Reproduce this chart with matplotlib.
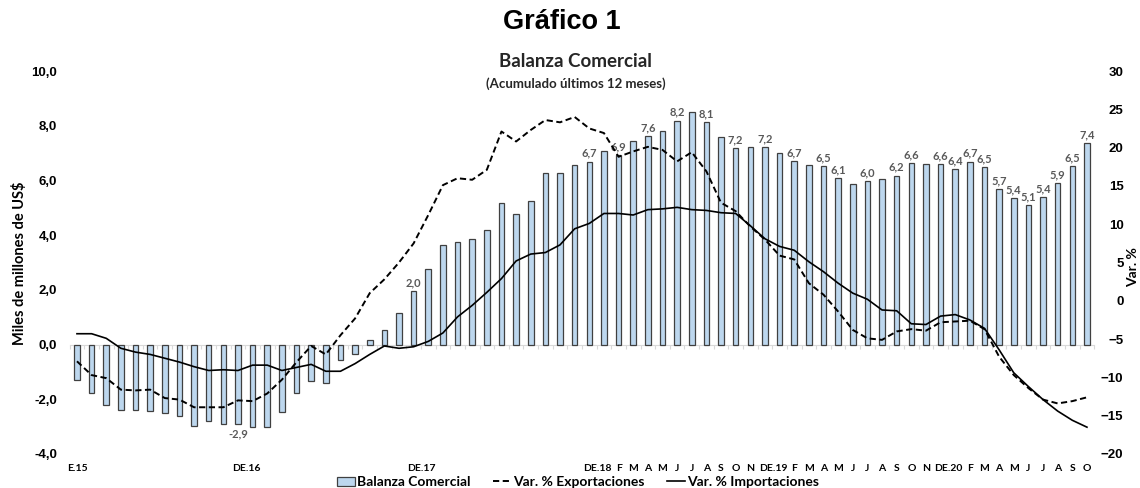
import numpy as np
import matplotlib.pyplot as plt
from matplotlib.patches import Patch
from matplotlib.lines import Line2D
from matplotlib.ticker import FuncFormatter

# Balanza comercial acumulada 12 meses (miles de millones de US$), E.15 a O.20
balanza = [-1.28, -1.77, -2.22, -2.40, -2.40, -2.42, -2.50, -2.60, -2.96, -2.78,
           -2.90, -2.92, -3.00, -3.00, -2.46, -1.76, -1.33, -1.41, -0.55, -0.35,
           0.15, 0.52, 1.16, 1.97, 2.78, 3.63, 3.75, 3.87, 4.17, 5.16,
           4.79, 5.26, 6.26, 6.26, 6.56, 6.69, 7.06, 6.93, 7.44, 7.62,
           7.82, 8.19, 8.49, 8.14, 7.60, 7.17, 7.24, 7.21, 6.99, 6.72,
           6.58, 6.54, 6.09, 5.86, 5.98, 6.07, 6.18, 6.62, 6.60, 6.60,
           6.42, 6.69, 6.48, 5.70, 5.36, 5.09, 5.39, 5.91, 6.53, 7.36]

# Var. % exportaciones e importaciones (eje derecho)
exportaciones = [-7.9, -9.7, -10.1, -11.6, -11.7, -11.6, -12.7, -12.9, -13.9, -13.9,
                 -13.9, -13.0, -13.1, -12.1, -10.3, -8.0, -5.9, -7.0, -4.5, -2.3,
                 1.0, 2.8, 5.0, 7.5, 11.2, 15.1, 16.0, 15.8, 17.1, 22.1,
                 20.8, 22.3, 23.6, 23.3, 24.0, 22.5, 21.9, 18.8, 19.5, 20.1,
                 19.7, 18.2, 19.4, 16.9, 12.8, 11.7, 9.7, 8.0, 5.9, 5.4,
                 2.3, 0.8, -1.4, -3.8, -4.9, -5.1, -4.0, -3.7, -3.9, -2.8,
                 -2.7, -2.6, -3.7, -7.3, -9.7, -11.4, -12.9, -13.4, -13.1, -12.6]

importaciones = [-4.3, -4.3, -4.9, -6.2, -6.7, -7.0, -7.5, -8.0, -8.6, -9.1,
                 -9.0, -9.1, -8.4, -8.4, -9.1, -8.7, -8.3, -9.2, -9.2, -8.2,
                 -7.0, -5.9, -6.2, -6.0, -5.3, -4.2, -2.1, -0.6, 1.1, 2.9,
                 5.2, 6.1, 6.3, 7.3, 9.4, 10.1, 11.4, 11.4, 11.2, 11.9,
                 12.0, 12.2, 11.9, 11.8, 11.5, 11.4, 9.8, 8.1, 7.1, 6.6,
                 5.1, 3.8, 2.3, 1.0, 0.2, -1.2, -1.3, -3.0, -3.1, -2.0,
                 -1.8, -2.5, -3.6, -6.4, -9.4, -11.2, -12.9, -14.4, -15.6, -16.5]

meses = ['F', 'M', 'A', 'M', 'J', 'J', 'A', 'S', 'O', 'N']
etiquetas_x = (['E.15'] + [''] * 11 + ['DE.16'] + [''] * 11 + ['DE.17'] + [''] * 11
               + ['DE.18'] + meses + [''] + ['DE.19'] + meses + [''] + ['DE.20'] + meses[:9])

# barras que llevan etiqueta de dato
con_etiqueta = [11, 23, 35, 37, 39, 41, 43, 45, 47, 49, 51, 52, 54, 56, 57,
                59, 60, 61, 62, 63, 64, 65, 66, 67, 68, 69]

LATO = ['Lato', 'DejaVu Sans']
ARIAL = ['Liberation Sans', 'DejaVu Sans']

n = len(balanza)
x = np.arange(n)

fig = plt.figure(figsize=(11.4, 4.88), dpi=100)
ax = fig.add_axes([0.0611, 0.0697, 0.8988, 0.7848])
ax2 = ax.twinx()

ax.bar(x, balanza, width=0.38, color='#BDD7EE', edgecolor='#404040', linewidth=0.9, zorder=2)

for i in con_etiqueta:
    v = balanza[i]
    txt = f"{v:.1f}".replace('.', ',')
    if v >= 0:
        ax.annotate(txt, (i, v), xytext=(0, 2), textcoords='offset points',
                    ha='center', va='bottom', fontsize=8, color='#595959',
                    family=LATO, fontweight='bold')
    else:
        ax.annotate(txt, (i, v), xytext=(0, -3), textcoords='offset points',
                    ha='center', va='top', fontsize=8, color='#595959',
                    family=LATO, fontweight='bold')

ax2.plot(x, exportaciones, color='black', linewidth=1.4, linestyle=(0, (3.2, 1.8)))
ax2.plot(x, importaciones, color='black', linewidth=1.2)

ax.set_xlim(-0.5, n - 0.5)
ax.set_ylim(-4, 10)
ax2.set_ylim(-20, 30)

ax.set_yticks(np.arange(-4, 10.1, 2))
ax.yaxis.set_major_formatter(FuncFormatter(lambda v, p: f"{v:.1f}".replace('.', ',')))
ax2.set_yticks(np.arange(-20, 31, 5))
ax.tick_params(axis='y', length=0, pad=9)
ax2.tick_params(axis='y', length=0, pad=21)
for lab in ax.get_yticklabels():
    lab.set_family(ARIAL)
    lab.set_fontweight('bold')
    lab.set_fontsize(9.5)
for lab in ax2.get_yticklabels():
    lab.set_family(ARIAL)
    lab.set_fontweight('bold')
    lab.set_fontsize(9.5)
    lab.set_horizontalalignment('right')

for s in ['top', 'left', 'right']:
    ax.spines[s].set_visible(False)
for s in ax2.spines.values():
    s.set_visible(False)

# eje de categorias sobre el cero
ax.spines['bottom'].set_position(('data', 0))
ax.spines['bottom'].set_color('#D9D9D9')
ax.spines['bottom'].set_zorder(1)
ax.set_xticks(np.arange(-0.5, n, 1))
ax.tick_params(axis='x', length=3, color='#D9D9D9', labelbottom=False)

pos = [i - 0.45 if e.startswith('DE') else i for i, e in enumerate(etiquetas_x) if e]
labs = [e for e in etiquetas_x if e]
sec = ax.secondary_xaxis('bottom')
sec.set_xticks(pos, labs)
sec.tick_params(length=0, pad=7)
sec.spines['bottom'].set_visible(False)
for lab in sec.get_xticklabels():
    lab.set_family(LATO)
    lab.set_fontweight('bold')
    lab.set_fontsize(7.5)

fig.text(0.493, 0.955, 'Gráfico 1', ha='center', va='center', fontsize=19.5,
         fontweight='bold', family=ARIAL)
fig.text(0.505, 0.873, 'Balanza Comercial', ha='center', va='center', fontsize=13.5,
         fontweight='bold', family=LATO, color='#262626')
fig.text(0.505, 0.828, '(Acumulado últimos 12 meses)', ha='center', va='center',
         fontsize=9.5, fontweight='bold', family=LATO, color='#262626')
fig.text(0.017, 0.46, 'Miles de millones de US$', rotation=90, ha='center', va='center',
         fontsize=10.5, fontweight='bold', family=LATO)
fig.text(0.9935, 0.452, 'Var. %', rotation=90, ha='center', va='center',
         fontsize=10, fontweight='bold', family=LATO)

handles = [Patch(facecolor='#BDD7EE', edgecolor='#404040', linewidth=0.9),
           Line2D([], [], color='black', linewidth=1.4, linestyle=(0, (3.2, 1.8))),
           Line2D([], [], color='black', linewidth=1.2)]
fig.legend(handles, ['Balanza Comercial', 'Var. % Exportaciones', 'Var. % Importaciones'],
           loc='center', bbox_to_anchor=(0.507, 0.012), ncol=3, frameon=False,
           prop={'family': LATO, 'weight': 'bold', 'size': 10},
           handlelength=1.3, handleheight=0.6, handletextpad=0.15, columnspacing=1.6,
           borderpad=0)

fig.savefig('out.png', dpi=100)
